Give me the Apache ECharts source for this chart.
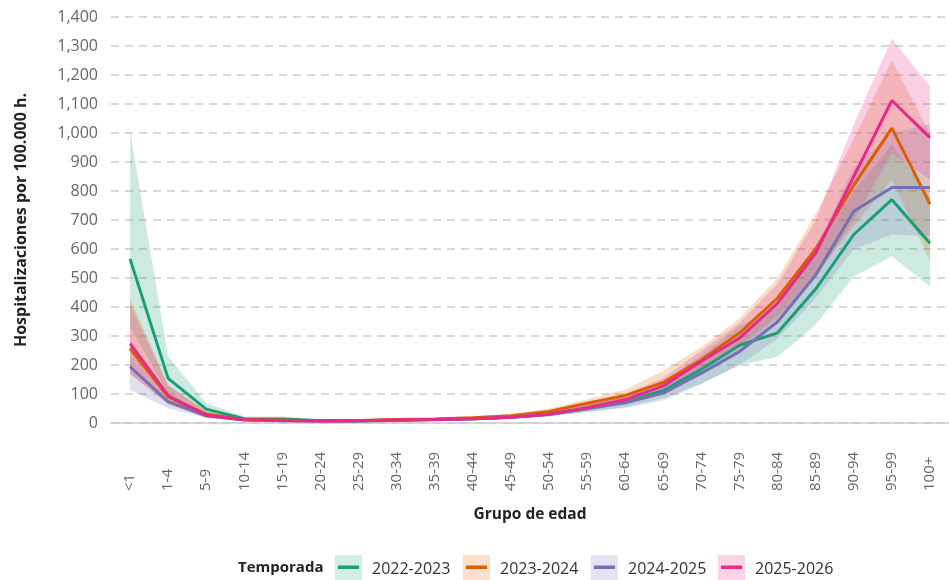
<!DOCTYPE html>
<html>
<head>
<meta charset="utf-8">
<script src="https://cdn.jsdelivr.net/npm/echarts@6/dist/echarts.min.js"></script>
<style>html,body{margin:0;padding:0;background:#fff}#c{width:949px;height:580px}</style>
</head>
<body>
<div id="c"></div>
<script>
const categories = ['<1','1-4','5-9','10-14','15-19','20-24','25-29','30-34','35-39','40-44','45-49','50-54','55-59','60-64','65-69','70-74','75-79','80-84','85-89','90-94','95-99','100+'];
const seasons = ['2022-2023','2023-2024','2024-2025','2025-2026'];
const colors = ['#1b9e77','#d95f02','#7570b3','#e7298a'];
const legendBoxColors = ['#d3eee4','#fbe1cd','#e4e3f1','#fad3e7'];

const line2223 = [566,154,48,15,14,8,8,10,12,15,20,30,50,72,112,185,268,311,462,650,770,620];
const line2324 = [257,90,30,12,10,8,9,12,14,18,25,40,68,95,140,218,310,431,600,820,1017,755];
const line2425 = [194,74,25,10,8,7,7,9,11,14,20,30,50,70,103,172,246,349,510,730,812,812];
const line2526 = [274,94,27,11,9,7,8,10,12,15,20,30,53,80,128,213,293,413,586,850,1112,984];

const low2223 = [330,100,30,8,7,5,5,6,8,10,14,22,38,55,85,135,200,228,340,505,575,470];
const up2223  = [1006,229,69,22,22,13,12,15,17,21,27,40,63,92,140,235,335,400,590,800,960,780];
const low2324 = [170,65,20,8,7,5,6,9,11,14,20,32,57,80,120,185,265,370,510,680,840,560];
const up2324  = [430,130,42,17,14,12,13,16,18,23,31,50,82,115,180,262,360,500,720,980,1250,1000];
const low2425 = [114,51,17,6,5,4,4,6,8,10,15,23,38,52,78,135,200,290,430,600,650,645];
const up2425  = [290,100,35,15,12,10,10,12,15,19,26,38,63,90,133,215,300,415,600,880,1000,1030];
const low2526 = [170,65,18,7,6,4,5,7,9,11,15,23,42,65,105,180,250,360,500,700,930,840];
const up2526  = [410,130,40,16,13,11,12,14,16,20,26,40,68,100,155,250,345,480,700,1030,1325,1160];

const yTicks = {min:0, max:1400, interval:100};

const lines = [line2223,line2324,line2425,line2526];
const lows = [low2223,low2324,low2425,low2526];
const ups = [up2223,up2324,up2425,up2526];

const FONT = "'Open Sans', 'DejaVu Sans', sans-serif";
const series = [];
seasons.forEach((s,i)=>{
  series.push({
    name: s+'_lo', type:'line', stack:'band'+i, data: lows[i], symbol:'none', silent:true,
    lineStyle:{opacity:0}, z:1
  });
  series.push({
    name: s+'_band', type:'line', stack:'band'+i, data: ups[i].map((u,k)=>u-lows[i][k]), symbol:'none', silent:true,
    lineStyle:{opacity:0}, areaStyle:{color:colors[i], opacity:0.22}, z:1
  });
});
seasons.forEach((s,i)=>{
  series.push({
    name: s, type:'line', data: lines[i], symbol:'none', silent:true,
    lineStyle:{color:colors[i], width:3}, itemStyle:{color:colors[i]}, z:5
  });
});

// legend built as graphic
const legendItems = [];
legendItems.push({type:'text', x:238, y:568, style:{text:'Temporada', font:"bold 15px "+FONT, fill:'#222', textVerticalAlign:'middle'}});
const boxX = [335,463,591,718];
seasons.forEach((s,i)=>{
  legendItems.push({type:'rect', x:boxX[i], y:555, shape:{width:27,height:26}, style:{fill:legendBoxColors[i]}});
  legendItems.push({type:'rect', x:boxX[i]+3, y:565.5, shape:{width:21,height:3.5}, style:{fill:colors[i]}});
  legendItems.push({type:'text', x:boxX[i]+37, y:569, style:{text:s, font:"16px "+FONT, fill:'#333', textVerticalAlign:'middle'}});
});

const chart = echarts.init(document.getElementById('c'));
chart.setOption({
  animation:false,
  textStyle:{fontFamily:FONT},
  grid:{left:111, top:17, width:845, height:406, containLabel:false},
  xAxis:{
    type:'category', data:categories, boundaryGap:true,
    name:'Grupo de edad', nameLocation:'middle', nameGap:84,
    nameTextStyle:{fontSize:15.5, fontWeight:'bold', color:'#222', fontFamily:FONT},
    axisLine:{show:true, lineStyle:{color:'#cccccc', width:1.5}},
    axisTick:{show:false},
    axisLabel:{rotate:90, align:'left', verticalAlign:'middle', margin:68, color:'#666', fontSize:15, fontFamily:FONT, interval:0}
  },
  yAxis:{
    type:'value', min:yTicks.min, max:yTicks.max, interval:yTicks.interval,
    name:'Hospitalizaciones por 100.000 h.', nameLocation:'middle', nameGap:82,
    nameTextStyle:{fontSize:16, fontWeight:'bold', color:'#222', fontFamily:FONT},
    axisLine:{show:false}, axisTick:{show:false},
    axisLabel:{color:'#666', fontSize:16, margin:13, fontFamily:FONT,
      formatter:v=>v.toLocaleString('en-US')},
    splitLine:{show:true, lineStyle:{color:'#cccccc', type:[8,6], width:1.5}}
  },
  series: series,
  graphic: legendItems
});
</script>
</body>
</html>
